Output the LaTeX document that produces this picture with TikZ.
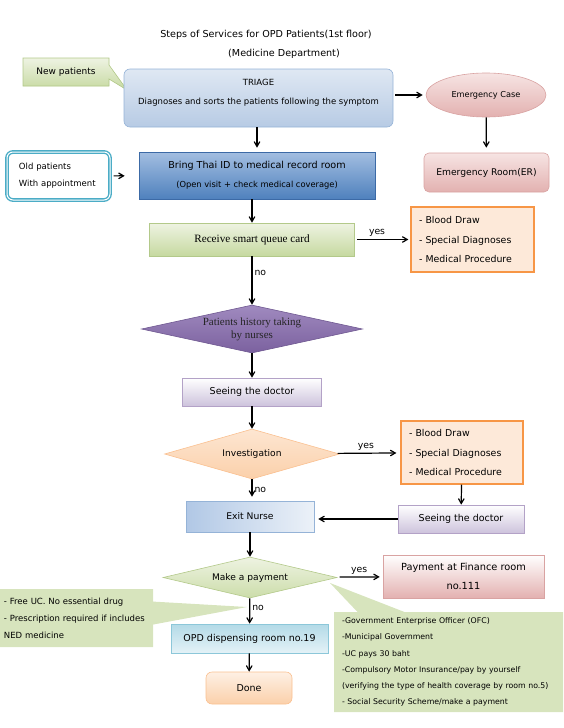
\documentclass[tikz,border=0pt]{standalone}
\usepackage{fontspec}
\setmainfont{DejaVu Sans}
\newfontfamily\serifbox{Liberation Serif}
\usetikzlibrary{arrows,shapes.geometric,shapes.callouts}

\definecolor{greentop}{HTML}{EEF3E2}
\definecolor{greenbot}{HTML}{C6D9A0}
\definecolor{greenline}{HTML}{B3C98A}
\definecolor{bluetop}{HTML}{DFE8F3}
\definecolor{bluebot}{HTML}{B7CBE4}
\definecolor{blueline}{HTML}{95B3D7}
\definecolor{darkbluetop}{HTML}{A3BEE1}
\definecolor{darkbluebot}{HTML}{4F81BD}
\definecolor{darkblueline}{HTML}{3C6AA6}
\definecolor{pinktop}{HTML}{F6E4E3}
\definecolor{pinkbot}{HTML}{E3B1B0}
\definecolor{pinkline}{HTML}{D9A3A2}
\definecolor{tealline}{HTML}{4BACC6}
\definecolor{orangeline}{HTML}{F79646}
\definecolor{orangefill}{HTML}{FDE9D9}
\definecolor{purpletop}{HTML}{A08ABF}
\definecolor{purplebot}{HTML}{7B619F}
\definecolor{purpleline}{HTML}{6F5891}
\definecolor{lavbot}{HTML}{CDC3DC}
\definecolor{lavline}{HTML}{B3A2C7}
\definecolor{peachtop}{HTML}{FDE6D2}
\definecolor{peachbot}{HTML}{FBD0AA}
\definecolor{peachline}{HTML}{FAC090}
\definecolor{notegreen}{HTML}{D7E4BD}
\definecolor{cyantop}{HTML}{B3DAE7}
\definecolor{cyanbot}{HTML}{E4F2F7}
\definecolor{cyanline}{HTML}{8CC7D9}

\begin{document}
\begin{tikzpicture}[x=1pt,y=-1pt,->,>=angle 60,very thick,
  box size/.style 2 args={minimum width=#1pt,minimum height=#2pt},
  main node/.style={rectangle,draw,semithick,inner sep=0pt,align=center,font=\fontsize{9.5}{12}\selectfont},
  list node/.style={main node,draw=orangeline,line width=1.2pt,fill=orangefill,align=left,font=\fontsize{9.4}{19.5}\selectfont},
  note node/.style={rectangle callout,fill=notegreen,inner sep=0pt,align=left,font=\fontsize{8.5}{17}\selectfont},
  label node/.style={font=\fontsize{9.3}{11}\selectfont,inner sep=2pt,text=black}]

  \useasboundingbox (0,0) rectangle (563,728);

  \node[font=\fontsize{9.6}{11}\selectfont] (title) at (266,35) {Steps of Services for OPD Patients(1st floor)};
  \node[font=\fontsize{9.6}{11}\selectfont] (dept) at (284,54) {(Medicine Department)};

  \node[note node,box size={86}{28},top color=greentop,bottom color=greenbot,draw=greenline,semithick,align=center,font=\fontsize{9}{11}\selectfont,callout absolute pointer={(127,90)},callout pointer width=14pt] (newp) at (66,72) {New patients};
  \node[main node,box size={269}{58},rounded corners=6pt,top color=bluetop,bottom color=bluebot,draw=blueline,font=\fontsize{8.5}{19}\selectfont] (triage) at (258.5,98) {TRIAGE\\Diagnoses and sorts the patients following the symptom\\[-7pt]};
  \node[ellipse,draw=pinkline,semithick,top color=pinktop,bottom color=pinkbot,inner sep=0pt,box size={120}{44},font=\fontsize{8.2}{10}\selectfont] (emerg) at (486,95) {Emergency Case};
  \node[main node,box size={125}{39},rounded corners=5pt,top color=pinktop,bottom color=pinkbot,draw=pinkline,font=\fontsize{9.2}{11}\selectfont] (er) at (486.5,172.5) {Emergency Room(ER)};

  \node[main node,box size={103}{48},rounded corners=6pt,draw=tealline,line width=1.4pt,double=white,double distance=1pt,align=left,text width=79pt,font=\fontsize{8.5}{17}\selectfont] (oldp) at (58.5,176) {Old patients\\With appointment};
  \node[main node,box size={236}{47},top color=darkbluetop,bottom color=darkbluebot,draw=darkblueline,font=\fontsize{9.6}{19}\selectfont] (bring) at (257,175.5) {Bring Thai ID to medical record room\\{\fontsize{8.3}{10}\selectfont (Open visit + check medical coverage)}};

  \node[main node,box size={205}{33},top color=greentop,bottom color=greenbot,draw=greenline,font=\serifbox\fontsize{11.2}{13}\selectfont] (receive) at (252,239.5) {Receive smart queue card};
  \node[list node,box size={123}{65},text width=107pt] (tests) at (472.5,239.5) {- Blood Draw\\- Special Diagnoses\\- Medical Procedure};

  \node[diamond,draw=purpleline,semithick,top color=purpletop,bottom color=purplebot,inner sep=0pt,aspect=4.6,box size={221}{48},align=center,font=\serifbox\fontsize{11}{13}\selectfont,text=black!85] (history) at (252,329) {Patients history taking\\by nurses};
  \node[main node,box size={139}{28},top color=white,bottom color=lavbot,draw=lavline] (doctor) at (252,392) {Seeing the doctor};

  \node[diamond,draw=peachline,semithick,top color=peachtop,bottom color=peachbot,inner sep=0pt,aspect=3.5,box size={175}{50},font=\fontsize{9.1}{11}\selectfont] (invest) at (252,454) {Investigation};
  \node[list node,box size={122}{63},text width=106pt] (moretests) at (462,452.5) {- Blood Draw\\- Special Diagnoses\\- Medical Procedure};
  \node[main node,box size={126}{28},top color=white,bottom color=lavbot,draw=lavline] (doctorb) at (461,519) {Seeing the doctor};
  \node[main node,box size={128}{31},left color=darkbluetop!85,right color=bluetop!60,draw=blueline,font=\fontsize{9.2}{11}\selectfont] (exit) at (250,516.5) {Exit Nurse};

  \node[diamond,draw=greenline,semithick,top color=greentop,bottom color=greenbot!90,inner sep=0pt,aspect=4.2,box size={174}{41},font=\fontsize{9.1}{11}\selectfont] (pay) at (250,577.5) {Make a payment};
  \node[main node,box size={161}{43},top color=white,bottom color=pinkbot,draw=pinkline,font=\fontsize{9.8}{19}\selectfont] (finance) at (463.5,576.5) {Payment at Finance room\\no.111};

  \node[note node,box size={153}{58},text width=145pt,callout absolute pointer={(247,607)},callout pointer width=23pt] (freeuc) at (76.5,618) {- Free UC. No essential drug\\- Prescription required if includes\\NED medicine};
  \node[note node,box size={229}{100},text width=213pt,callout absolute pointer={(330,583)},callout pointer width=47pt,font=\fontsize{7.8}{16.2}\selectfont] (schemes) at (448.5,662) {-Government Enterprise Officer (OFC)\\-Municipal Government\\-UC pays 30 baht\\-Compulsory Motor Insurance/pay by yourself\\(verifying the type of health coverage by room no.5)\\- Social Security Scheme/make a payment};

  \node[main node,box size={157}{29},top color=cyantop,bottom color=cyanbot,draw=cyanline] (opd) at (249.5,638.5) {OPD dispensing room no.19};
  \node[main node,box size={86}{32},rounded corners=6pt,top color=peachtop!60,bottom color=peachbot,draw=peachline] (done) at (249,688) {Done};

  \path[->]
       (triage.east |- emerg) edge[shorten >=3pt,shorten <=2pt] (emerg)
       (emerg) edge[shorten >=5pt] (er)
       (triage.south -| bring) edge[shorten >=4pt] (bring)
       (oldp) edge[shorten <=3pt,shorten >=14pt] (bring)
       (bring.south -| receive) edge (receive)
       (receive) edge[shorten <=2pt,shorten >=2pt] node[label node,above,pos=.4] {yes} (tests)
       (receive) edge node[label node,right,pos=.35] {no} (history)
       (history) edge (doctor)
       (doctor) edge (invest)
       (invest) edge[shorten >=4pt] node[label node,above,pos=.45] {yes} (moretests)
       (moretests) edge (doctorb)
       (doctorb.west) edge[shorten >=4pt] (doctorb.west -| exit.east)
       (invest.south) edge[shorten >=4pt] node[label node,right] {no} (invest.south |- exit.north)
       (exit) edge (pay)
       (pay) edge[shorten <=4pt,shorten >=3pt] node[label node,above] {yes} (finance)
       (pay) edge node[label node,right,pos=.4] {no} (opd)
       (opd) edge (done);
\end{tikzpicture}
\end{document}
